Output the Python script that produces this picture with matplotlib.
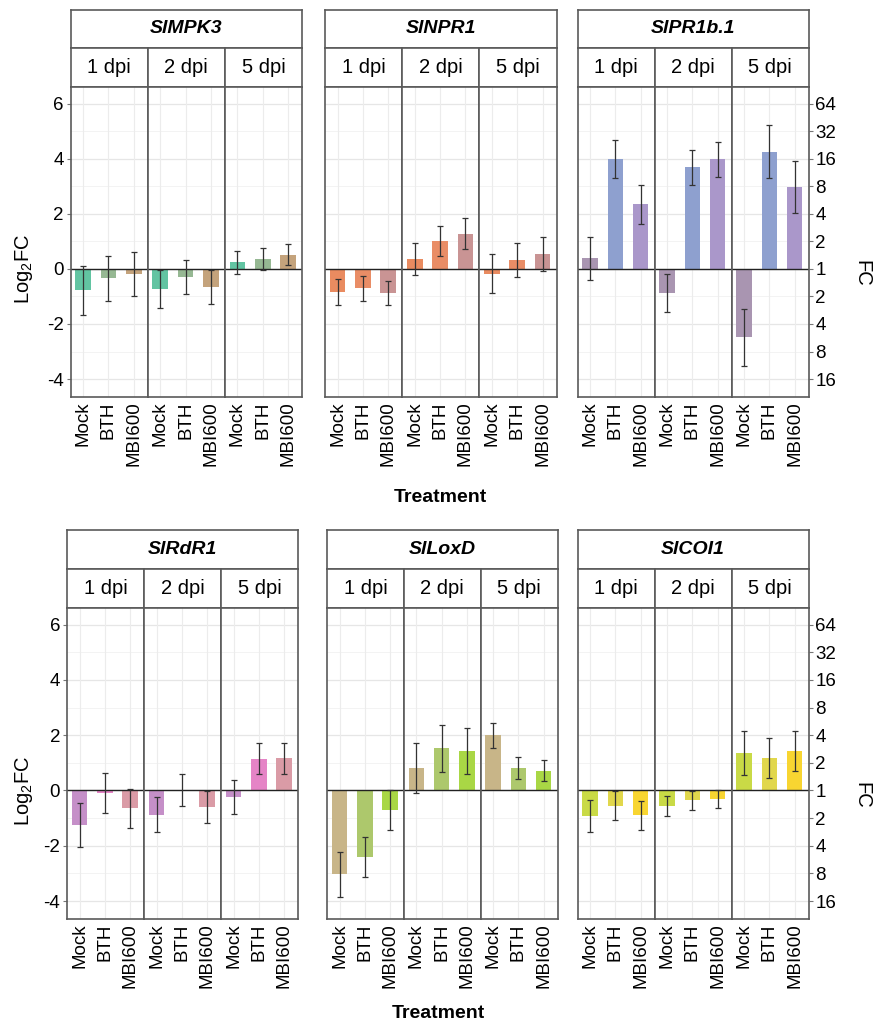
import matplotlib
matplotlib.use("Agg")
import matplotlib.pyplot as plt
import numpy as np

plt.rcParams['font.family'] = ['Liberation Sans', 'DejaVu Sans']
plt.rcParams['mathtext.fontset'] = 'custom'
plt.rcParams['mathtext.rm'] = 'Liberation Sans'

genes = ['SlMPK3', 'SlNPR1', 'SlPR1b.1', 'SlRdR1', 'SlLoxD', 'SlCOI1']
dpis = ['1 dpi', '2 dpi', '5 dpi']
treatments = ['Mock', 'BTH', 'MBI600']

# mean Log2FC per gene, order: 1 dpi (Mock, BTH, MBI600), 2 dpi, 5 dpi
mpk3_mean = [-0.78, -0.34, -0.19, -0.73, -0.31, -0.66, 0.24, 0.35, 0.52]
npr1_mean = [-0.84, -0.71, -0.87, 0.35, 1.02, 1.28, -0.17, 0.32, 0.55]
pr1b_mean = [0.38, 3.98, 2.35, -0.87, 3.69, 3.97, -2.48, 4.25, 2.97]
rdr1_mean = [-1.25, -0.10, -0.65, -0.87, 0.03, -0.59, -0.23, 1.15, 1.17]
loxd_mean = [-3.04, -2.40, -0.71, 0.82, 1.52, 1.43, 1.99, 0.80, 0.72]
coi1_mean = [-0.93, -0.55, -0.90, -0.56, -0.36, -0.32, 1.35, 1.16, 1.43]

# error bar half widths, same order
mpk3_err = [0.89, 0.82, 0.81, 0.68, 0.62, 0.63, 0.42, 0.39, 0.38]
npr1_err = [0.48, 0.45, 0.44, 0.59, 0.55, 0.55, 0.70, 0.63, 0.62]
pr1b_err = [0.77, 0.70, 0.71, 0.69, 0.64, 0.63, 1.03, 0.96, 0.95]
rdr1_err = [0.78, 0.73, 0.71, 0.62, 0.58, 0.58, 0.61, 0.57, 0.56]
loxd_err = [0.80, 0.73, 0.73, 0.91, 0.84, 0.84, 0.44, 0.40, 0.39]
coi1_err = [0.57, 0.53, 0.53, 0.36, 0.33, 0.33, 0.80, 0.72, 0.71]

means = [mpk3_mean, npr1_mean, pr1b_mean, rdr1_mean, loxd_mean, coi1_mean]
errs = [mpk3_err, npr1_err, pr1b_err, rdr1_err, loxd_err, coi1_err]

# bar colours per gene (Mock, BTH, MBI600)
colors = [
    ['#62c4a2', '#96b893', '#c4a37c'],
    ['#e98b60', '#e98d66', '#c99494'],
    ['#a995b1', '#8ea0cf', '#aa97ca'],
    ['#c58fc8', '#e584c6', '#da9ba6'],
    ['#c8b588', '#adc86c', '#a9d745'],
    ['#c9da46', '#e1d74c', '#f8d531'],
]

fc_labels = ['16', '8', '4', '2', '1', '2', '4', '8', '16', '32', '64']

W, H = 873, 1023
fig = plt.figure(figsize=(W / 100, H / 100), dpi=100)
edge = '#5a5a5a'


def px_axes(x0, y0, x1, y1):
    return fig.add_axes([x0 / W, 1 - y1 / H, (x1 - x0) / W, (y1 - y0) / H])


def strip(x0, y0, x1, y1, text, **kw):
    ax = px_axes(x0, y0, x1, y1)
    ax.set_xticks([])
    ax.set_yticks([])
    for s in ax.spines.values():
        s.set_color(edge)
        s.set_linewidth(1.2)
    ax.text(0.5, 0.5, text, ha='center', va='center', transform=ax.transAxes, **kw)


rows = [(9.5, 48, 87, 397), (530, 569, 608, 919)]
cols = [[(70.5, 302), (325, 556.5), (577.5, 808.5)],
        [(67, 298), (327, 557.5), (577.5, 808.5)]]

for g, gene in enumerate(genes):
    r, c = divmod(g, 3)
    ys, yd, yp, yb = rows[r]
    px0, px1 = cols[r][c]
    strip(px0, ys, px1, yd, gene, fontsize=14, fontweight='bold', fontstyle='italic')
    fw = (px1 - px0) / 3
    for f in range(3):
        fx0 = px0 + f * fw
        strip(fx0, yd, fx0 + fw, yp, dpis[f], fontsize=14.5)
        ax = px_axes(fx0, yp, fx0 + fw, yb)
        vals = means[g][f * 3:f * 3 + 3]
        ee = errs[g][f * 3:f * 3 + 3]
        x = np.arange(1, 4)
        for k in range(-4, 7):
            ax.axhline(k, color='#e6e6e6' if k % 2 == 0 else '#f1f1f1',
                       lw=0.9 if k % 2 == 0 else 0.6, zorder=0)
        for xv in x:
            ax.axvline(xv, color='#ececec', lw=0.8, zorder=0)
        ax.bar(x, vals, width=0.62, color=colors[g], zorder=2)
        ax.errorbar(x, vals, yerr=ee, fmt='none', ecolor='#333333',
                    elinewidth=0.9, capsize=2, capthick=0.9, zorder=3)
        ax.axhline(0, color='#222222', lw=1.0, zorder=2.5)
        ax.set_xlim(0.5, 3.55)
        ax.set_ylim(-4.65, 6.6)
        for s in ax.spines.values():
            s.set_color(edge)
            s.set_linewidth(1.2)
        ax.set_xticks(x)
        ax.set_xticklabels(treatments, rotation=90, fontsize=13.5)
        ax.tick_params(axis='x', length=0, pad=3)
        if c == 0 and f == 0:
            ax.set_yticks([-4, -2, 0, 2, 4, 6])
            ax.set_yticklabels(['-4', '-2', '0', '2', '4', '6'], fontsize=13.5)
            ax.tick_params(axis='y', length=3, color='#777777', pad=2)
        elif c == 2 and f == 2:
            ax.yaxis.tick_right()
            ax.set_yticks(np.arange(-4, 7))
            ax.set_yticklabels(fc_labels, fontsize=13.5)
            ax.tick_params(axis='y', length=3, color='#777777', pad=2)
        else:
            ax.set_yticks([])

    if c == 0:
        zero_y = yp + (yb - yp) * 6.6 / 11.25
        fig.text(24 / W, 1 - zero_y / H, 'Log$_2$FC', rotation=90,
                 ha='center', va='center', fontsize=14.5)
    if c == 2:
        zero_y = yp + (yb - yp) * 6.6 / 11.25
        fig.text(862 / W, 1 - (zero_y + 5) / H, 'FC', rotation=270,
                 ha='center', va='center', fontsize=14.5)

fig.text(440 / W, 1 - 497 / H, 'Treatment', ha='center', va='center',
         fontsize=14, fontweight='bold')
fig.text(438 / W, 1 - 1013 / H, 'Treatment', ha='center', va='center',
         fontsize=14, fontweight='bold')

fig.savefig('out.png', dpi=100, facecolor='white')
